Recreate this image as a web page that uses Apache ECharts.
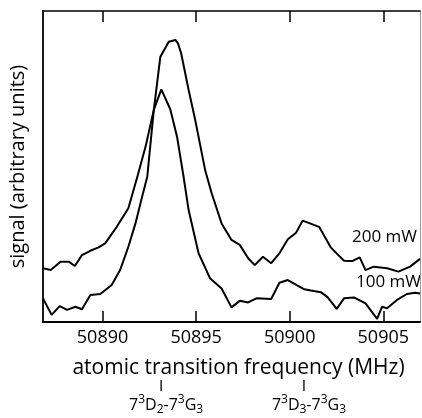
<!DOCTYPE html>
<html><head><meta charset="utf-8">
<script src="https://cdn.jsdelivr.net/npm/echarts@6/dist/echarts.min.js"></script>
<style>html,body{margin:0;padding:0;background:#fff}#c{width:422px;height:418px}</style>
</head><body><div id="c"></div>
<script>
// 200 mW trace
const freq200 = [50886.82,50887.23,50887.76,50888.20,50888.52,50888.90,50889.35,50889.79,50890.14,50890.76,50891.38,50891.86,50892.30,50892.74,50893.09,50893.54,50893.89,50894.03,50894.20,50894.60,50894.95,50895.48,50895.83,50896.36,50896.89,50897.33,50897.78,50898.13,50898.57,50899.01,50899.45,50899.90,50900.34,50900.69,50901.57,50902.19,50902.90,50903.34,50903.74,50904.05,50904.49,50905.20,50905.81,50906.43,50906.96];
const signal200 = [17.3,16.7,19.4,19.4,18.0,21.5,22.9,24.0,25.3,30.6,36.6,46.7,56.4,68.2,85.3,90.1,90.7,89.6,86.4,74.6,65.0,48.9,41.4,31.7,26.4,24.8,20.5,18.3,21.0,18.9,22.1,26.6,28.7,32.6,30.6,24.0,19.7,19.6,20.8,16.7,17.8,17.3,16.2,17.8,20.3];
// 100 mW trace
const freq100 = [50886.82,50887.28,50887.71,50888.11,50888.55,50888.90,50889.35,50889.88,50890.49,50890.94,50891.38,50891.76,50892.07,50892.39,50892.74,50893.14,50893.62,50893.98,50894.33,50894.60,50895.13,50895.74,50896.36,50896.89,50897.33,50897.78,50898.22,50899.01,50899.45,50899.90,50900.78,50901.13,50901.66,50902.02,50902.51,50902.90,50903.43,50904.05,50904.67,50904.93,50905.20,50905.73,50906.26,50906.70,50906.96];
const signal100 = [7.6,2.3,5.1,3.9,4.9,4.1,8.7,9.0,11.9,16.7,24.2,31.7,39.2,46.7,68.2,74.8,68.4,59.6,46.7,36.0,22.1,14.1,10.8,4.7,6.8,6.3,7.6,7.4,12.6,13.5,10.5,10.1,9.6,8.0,4.2,7.6,7.9,6.0,1.0,4.9,4.4,7.1,9.0,9.4,9.2];
const xTicks = [50890, 50895, 50900, 50905];
const seriesNames = ['200 mW', '100 mW'];
const transitionFreqs = [50893.13, 50900.76];
const transitionLabels = ['7{s|3}D{b|2}-7{s|3}G{b|3}', '7{s|3}D{b|3}-7{s|3}G{b|3}'];

const FONT = "'Open Sans', 'DejaVu Sans', sans-serif";
const INK = '#000';
const xMin = 50886.82, xMax = 50906.96;
const chart = echarts.init(document.getElementById('c'), null, {renderer: 'canvas'});
const zip = (a, b) => a.map((v, i) => [v, b[i]]);
const lineStyle = {color: INK, width: 2};
chart.setOption({
  animation: false,
  backgroundColor: '#fff',
  grid: {left: 40, right: 2, top: 11, bottom: 96},
  xAxis: [{
    type: 'value', min: xMin, max: xMax, position: 'bottom',
    name: 'atomic transition frequency (MHz)', nameLocation: 'middle', nameGap: 36,
    nameTextStyle: {fontFamily: FONT, fontSize: 21, fontWeight: 'normal', color: INK, padding: [0, 0, 0, 14]},
    axisLine: {show: true, onZero: false, lineStyle: {color: INK, width: 1.8}},
    axisTick: {show: true, inside: true, length: 11, customValues: xTicks, lineStyle: {color: INK, width: 1.5}},
    axisLabel: {customValues: xTicks, fontFamily: FONT, fontSize: 18, color: INK, margin: 7, formatter: v => String(v)},
    splitLine: {show: false}
  }, {
    type: 'value', min: xMin, max: xMax, position: 'top',
    axisLine: {show: true, onZero: false, lineStyle: {color: INK, width: 1.5}},
    axisTick: {show: true, inside: true, length: 11, customValues: xTicks, lineStyle: {color: INK, width: 1.5}},
    axisLabel: {show: false}, splitLine: {show: false}
  }],
  yAxis: [{
    type: 'value', min: 0, max: 100, position: 'left',
    name: 'signal (arbitrary units)', nameLocation: 'middle', nameGap: 15,
    nameTextStyle: {fontFamily: FONT, fontSize: 20, color: INK},
    axisLine: {show: true, onZero: false, lineStyle: {color: INK, width: 1.8}},
    axisTick: {show: false}, axisLabel: {show: false}, splitLine: {show: false}
  }, {
    type: 'value', min: 0, max: 100, position: 'right',
    axisLine: {show: true, onZero: false, lineStyle: {color: '#999', width: 1}},
    axisTick: {show: false}, axisLabel: {show: false}, splitLine: {show: false}
  }],
  series: [
    {name: seriesNames[0], type: 'line', data: zip(freq200, signal200), showSymbol: false, lineStyle, clip: true},
    {name: seriesNames[1], type: 'line', data: zip(freq100, signal100), showSymbol: false, lineStyle, clip: true}
  ]
});

const g = [];
g.push({type: 'text', left: 352, top: 229, style: {text: seriesNames[0], fontFamily: FONT, fontSize: 17, fill: INK}});
g.push({type: 'text', left: 356, top: 274, style: {text: seriesNames[1], fontFamily: FONT, fontSize: 17, fill: INK}});
transitionFreqs.forEach((f, i) => {
  const px = chart.convertToPixel({xAxisIndex: 0}, f);
  g.push({type: 'line', shape: {x1: px, y1: 380, x2: px, y2: 391}, style: {stroke: INK, lineWidth: 1.3}});
  g.push({type: 'text', x: px + 5, y: 405, style: {
    text: transitionLabels[i], align: 'center', verticalAlign: 'middle',
    fontFamily: FONT, fontSize: 16, fill: INK,
    rich: {
      s: {fontSize: 12, fontFamily: FONT, verticalAlign: 'top', lineHeight: 22, fill: INK},
      b: {fontSize: 12, fontFamily: FONT, verticalAlign: 'bottom', lineHeight: 22, fill: INK}
    }
  }});
});
chart.setOption({graphic: g});
</script></body></html>
